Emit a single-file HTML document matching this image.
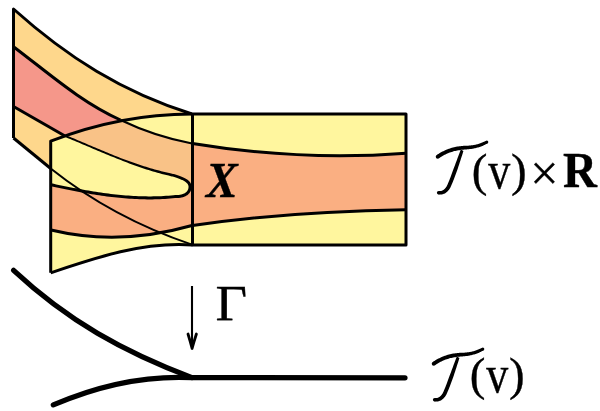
<!DOCTYPE html>
<html><head><meta charset="utf-8">
<style>
html,body{margin:0;padding:0;background:#fff;}
body{width:600px;height:411px;overflow:hidden;position:relative;}
svg{position:absolute;left:0;top:0;}
.t{font-family:"Liberation Serif",serif;stroke:#000;stroke-width:0.35px;-webkit-font-smoothing:antialiased;}
svg{will-change:transform;}
</style></head><body>
<svg width="600" height="411" viewBox="0 0 600 411">
<g stroke="none">
  <!-- back sheet -->
  <path fill="#FED78C" d="M13.5,9 C67,57 122,92 192,114 L192,244.6 C142.6,228 92.2,201.6 50.7,168.5 L13.5,138 Z"/>
  <path fill="#F5978A" d="M13.5,46.7 C48.4,73 80.5,101.9 120.5,120 C100,124 80,130 65,136 L13.5,106.5 Z"/>
  <!-- front sheet -->
  <path fill="#F9C287" d="M50.7,141.2 C96.1,123.5 142.9,114 192,114 L192,245 C143.4,241.5 96.6,257.3 50.7,272.8 Z"/>
  <path fill="#FFF69E" d="M120.5,120 C150,115.5 170,114 192,114 L192,143.5 Q155,136.5 120.5,120 Z"/>
  <path fill="#FFF69E" d="M64,135.5 C99.8,150 132.6,166.3 170,174.5 C185,178.3 190.5,182 190,187.5 C189.5,194 183,196.8 175,196.6 C133.2,201 91.7,193.5 51,184.8 L50.7,141.2 Z"/>
  <path fill="#FAAF82" d="M51,184.8 C91.7,193.5 133.2,201 175,196.6 C183,196.8 189.5,194 190,187.5 L192,187.5 L192,225.5 C146.4,238.5 97.4,241.1 51,230 Z"/>
  <path fill="#FFF69E" d="M51,230 C97.4,241.1 146.4,238.5 192,225.5 L192,245 C143.4,241.5 96.6,257.3 50.7,272.8 Z"/>
  <!-- rectangle -->
  <rect x="192.5" y="114" width="213.5" height="131" fill="#FFF69E"/>
  <path fill="#FAAF82" d="M192.5,143.5 C250,153 320,159.8 406,153.2 L406,209.7 C330,210.8 250,217 192.5,225.5 Z"/>
</g>
<g fill="none" stroke="#000" stroke-linejoin="round">
  <!-- thin continuation lines -->
  <path stroke-width="2.1" d="M120.5,120 Q155,136.5 192,143.5"/>
  <path stroke-width="2" d="M50.7,168.5 C92.2,201.6 142.6,228 192,244.6"/>
  <!-- thick -->
  <g stroke-width="3">
  <path d="M13.5,138 L13.5,9 C67,57 122,92 192,114"/>
  <path d="M13.5,46.7 C48.4,73 80.5,101.9 120.5,120"/>
  <path d="M13.5,106.5 L65,136"/>
  <path d="M13.5,138 L50.7,168.5"/>
  <path d="M50.7,272.8 L50.7,141.2 C96.1,123.5 142.9,114 192,114"/>
  <path d="M50.7,272.8 C96.6,257.3 143.4,241.5 192.5,245"/>
  <path d="M51,230 C97.4,241.1 146.4,238.5 192,225.5"/>
  <rect x="192.5" y="114" width="213.5" height="131"/>
  <path d="M192.5,143.5 C250,153 320,159.8 406,153.2"/>
  <path d="M192.5,225.5 C250,217 330,210.8 406,209.7"/>
  </g>
  </g>
<path fill="#000" stroke="none" d="M63.64,136.38 L65.81,137.26 L67.96,138.14 L70.11,139.03 L72.26,139.92 L74.40,140.82 L76.53,141.71 L78.66,142.61 L80.78,143.50 L82.90,144.40 L85.02,145.30 L87.13,146.20 L89.24,147.10 L91.35,147.99 L93.46,148.89 L95.56,149.78 L97.66,150.67 L99.76,151.55 L101.86,152.43 L103.96,153.31 L106.06,154.18 L108.16,155.05 L110.26,155.91 L112.37,156.77 L114.47,157.61 L116.57,158.45 L118.68,159.29 L120.79,160.12 L122.90,160.95 L125.01,161.78 L127.12,162.59 L129.24,163.39 L131.37,164.18 L133.50,164.97 L135.63,165.74 L137.77,166.49 L139.92,167.24 L142.07,167.97 L144.23,168.69 L146.40,169.39 L148.58,170.08 L150.76,170.76 L152.95,171.41 L155.16,172.06 L157.37,172.68 L159.59,173.29 L161.82,173.88 L164.06,174.46 L166.31,175.01 L168.58,175.55 L170.12,175.92 L170.99,176.15 L171.85,176.39 L172.68,176.62 L173.48,176.85 L174.26,177.09 L175.02,177.32 L175.76,177.55 L176.48,177.79 L177.17,178.02 L177.84,178.25 L178.48,178.49 L179.11,178.72 L179.71,178.95 L180.29,179.19 L180.85,179.42 L181.39,179.65 L181.91,179.89 L182.40,180.12 L182.87,180.36 L183.32,180.59 L183.75,180.83 L184.16,181.06 L184.55,181.30 L184.92,181.53 L185.27,181.77 L185.59,182.00 L185.90,182.23 L186.19,182.47 L186.45,182.70 L186.70,182.93 L186.93,183.16 L187.14,183.39 L187.33,183.62 L187.51,183.84 L187.67,184.07 L187.81,184.29 L187.94,184.51 L188.06,184.74 L188.16,184.96 L188.25,185.18 L188.32,185.41 L188.39,185.64 L188.44,185.87 L188.48,186.10 L188.51,186.34 L188.53,186.59 L188.53,186.84 L188.52,187.10 L188.51,187.37 L188.47,187.72 L188.43,188.04 L188.37,188.35 L188.31,188.65 L188.23,188.94 L188.14,189.22 L188.04,189.50 L187.93,189.76 L187.81,190.02 L187.68,190.27 L187.54,190.52 L187.39,190.76 L187.23,190.99 L187.06,191.21 L186.88,191.43 L186.69,191.64 L186.49,191.85 L186.28,192.05 L186.06,192.24 L185.83,192.43 L185.58,192.62 L185.33,192.79 L185.07,192.96 L184.80,193.13 L184.51,193.29 L184.22,193.44 L183.92,193.59 L183.61,193.73 L183.29,193.86 L182.96,193.99 L182.62,194.11 L182.27,194.23 L181.92,194.33 L181.55,194.43 L181.18,194.53 L180.80,194.61 L180.41,194.69 L180.02,194.77 L179.62,194.83 L179.21,194.89 L178.79,194.94 L178.37,194.99 L177.94,195.03 L177.51,195.06 L177.07,195.08 L176.63,195.10 L176.18,195.11 L175.73,195.11 L175.27,195.11 L173.58,195.24 L171.07,195.47 L168.55,195.68 L166.04,195.86 L163.52,196.02 L161.01,196.14 L158.50,196.24 L155.99,196.32 L153.47,196.37 L150.96,196.39 L148.45,196.40 L145.94,196.37 L143.43,196.33 L140.92,196.26 L138.42,196.17 L135.91,196.06 L133.40,195.93 L130.90,195.78 L128.39,195.61 L125.89,195.42 L123.39,195.21 L120.89,194.98 L118.38,194.74 L115.88,194.47 L113.39,194.19 L110.89,193.90 L108.39,193.59 L105.90,193.26 L103.40,192.92 L100.91,192.57 L98.42,192.20 L95.92,191.82 L93.43,191.42 L90.95,191.02 L88.46,190.60 L85.97,190.17 L83.49,189.74 L81.00,189.29 L78.52,188.83 L76.04,188.36 L73.56,187.89 L71.08,187.41 L68.61,186.92 L66.13,186.42 L63.66,185.92 L61.19,185.41 L58.72,184.90 L56.25,184.38 L53.78,183.86 L51.31,183.33 L51.92,186.53 L54.39,187.05 L56.86,187.58 L59.34,188.09 L61.82,188.60 L64.30,189.11 L66.78,189.61 L69.26,190.11 L71.75,190.59 L74.24,191.07 L76.73,191.55 L79.22,192.01 L81.71,192.47 L84.21,192.91 L86.71,193.35 L89.21,193.77 L91.71,194.18 L94.21,194.59 L96.72,194.98 L99.22,195.35 L101.73,195.72 L104.24,196.07 L106.75,196.40 L109.27,196.72 L111.78,197.03 L114.30,197.32 L116.82,197.59 L119.34,197.85 L121.86,198.09 L124.39,198.31 L126.91,198.51 L129.44,198.69 L131.97,198.85 L134.50,199.00 L137.03,199.12 L139.56,199.22 L142.10,199.30 L144.63,199.35 L147.17,199.39 L149.71,199.40 L152.25,199.38 L154.79,199.35 L157.33,199.28 L159.87,199.19 L162.42,199.08 L164.96,198.94 L167.51,198.77 L170.06,198.57 L172.61,198.35 L175.12,198.09 L175.47,198.11 L175.97,198.11 L176.47,198.10 L176.96,198.09 L177.45,198.07 L177.94,198.04 L178.42,198.00 L178.90,197.95 L179.37,197.90 L179.84,197.83 L180.30,197.76 L180.76,197.68 L181.21,197.59 L181.66,197.50 L182.10,197.39 L182.53,197.28 L182.96,197.15 L183.38,197.02 L183.80,196.88 L184.21,196.73 L184.61,196.57 L185.00,196.39 L185.38,196.21 L185.76,196.02 L186.13,195.82 L186.49,195.61 L186.84,195.39 L187.18,195.16 L187.52,194.92 L187.84,194.66 L188.15,194.40 L188.45,194.12 L188.74,193.84 L189.02,193.54 L189.29,193.23 L189.54,192.91 L189.78,192.58 L190.00,192.24 L190.22,191.89 L190.41,191.53 L190.60,191.15 L190.76,190.77 L190.91,190.38 L191.05,189.98 L191.17,189.57 L191.27,189.15 L191.36,188.72 L191.42,188.28 L191.48,187.84 L191.51,187.44 L191.53,187.04 L191.53,186.65 L191.51,186.26 L191.47,185.87 L191.42,185.48 L191.34,185.09 L191.25,184.71 L191.13,184.34 L190.99,183.97 L190.84,183.60 L190.66,183.24 L190.47,182.89 L190.26,182.54 L190.02,182.21 L189.77,181.88 L189.50,181.55 L189.21,181.24 L188.91,180.93 L188.59,180.63 L188.25,180.33 L187.89,180.04 L187.52,179.76 L187.13,179.48 L186.72,179.20 L186.30,178.93 L185.85,178.67 L185.39,178.40 L184.92,178.15 L184.42,177.89 L183.90,177.64 L183.37,177.39 L182.82,177.14 L182.25,176.90 L181.66,176.66 L181.05,176.42 L180.42,176.18 L179.77,175.94 L179.10,175.71 L178.41,175.48 L177.70,175.25 L176.96,175.02 L176.21,174.79 L175.44,174.56 L174.64,174.33 L173.82,174.10 L172.98,173.88 L172.12,173.65 L171.24,173.42 L170.30,173.19 L168.03,172.70 L165.79,172.20 L163.56,171.67 L161.34,171.13 L159.12,170.56 L156.92,169.98 L154.72,169.39 L152.53,168.78 L150.35,168.15 L148.18,167.50 L146.01,166.84 L143.85,166.17 L141.70,165.48 L139.55,164.78 L137.41,164.06 L135.27,163.34 L133.14,162.60 L131.01,161.85 L128.89,161.08 L126.77,160.31 L124.65,159.53 L122.54,158.73 L120.43,157.93 L118.33,157.11 L116.23,156.27 L114.13,155.43 L112.03,154.58 L109.93,153.72 L107.84,152.86 L105.74,151.99 L103.65,151.12 L101.55,150.24 L99.45,149.36 L97.35,148.47 L95.25,147.58 L93.15,146.69 L91.04,145.80 L88.93,144.90 L86.82,144.00 L84.71,143.10 L82.59,142.20 L80.46,141.31 L78.33,140.41 L76.20,139.51 L74.06,138.62 L71.92,137.72 L69.76,136.83 L67.61,135.94 L65.44,135.06 Z"/>
<g fill="none" stroke="#000" stroke-linejoin="round">
  <!-- tree -->
  <g stroke-width="5.2" stroke-linecap="round">
  <path d="M13.6,270.3 C68,321 123.3,351.5 192,377.6"/>
  <path d="M53.3,404.9 C96.5,386.3 144.6,375.3 192,377.6 L405,377.8"/>
  </g>
  <!-- arrow -->
  <path stroke-width="2.1" d="M192,286 L192,346"/>
  <path stroke-width="2.8" stroke-linecap="round" d="M188,334 Q190.5,342 192.1,348.5 M196.4,334 Q193.8,342 192.1,348.5"/>
</g>
<!-- script T top -->
<g fill="#000"><path d="M438.80,158.31 L439.62,157.75 L440.44,157.22 L441.27,156.70 L442.10,156.21 L442.93,155.73 L443.77,155.27 L444.62,154.82 L445.47,154.40 L446.34,153.99 L447.20,153.60 L448.08,153.23 L448.96,152.87 L449.85,152.54 L450.75,152.22 L451.66,151.92 L452.58,151.63 L453.50,151.37 L454.44,151.12 L455.39,150.88 L456.35,150.67 L457.32,150.47 L458.30,150.29 L459.29,150.13 L460.30,149.98 L461.32,149.85 L462.35,149.74 L463.39,149.63 L464.45,149.54 L465.52,149.46 L466.51,149.40 L467.34,149.34 L468.16,149.27 L468.97,149.19 L469.78,149.09 L470.58,148.99 L471.37,148.88 L472.16,148.76 L472.94,148.63 L473.71,148.49 L474.47,148.33 L475.23,148.17 L475.98,148.00 L476.73,147.81 L477.46,147.62 L478.19,147.41 L478.91,147.19 L479.63,146.97 L480.33,146.73 L481.03,146.47 L481.72,146.21 L482.41,145.93 L483.08,145.65 L483.75,145.35 L484.41,145.03 L485.06,144.71 L485.70,144.37 L486.33,144.02 L486.96,143.66 L487.57,143.29 L485.74,140.88 L485.16,141.20 L484.58,141.50 L483.99,141.80 L483.39,142.08 L482.79,142.36 L482.17,142.62 L481.55,142.87 L480.92,143.11 L480.28,143.33 L479.63,143.55 L478.98,143.76 L478.32,143.95 L477.65,144.14 L476.97,144.31 L476.29,144.48 L475.60,144.63 L474.90,144.78 L474.19,144.91 L473.47,145.04 L472.75,145.15 L472.02,145.26 L471.28,145.36 L470.54,145.44 L469.78,145.52 L469.02,145.59 L468.26,145.65 L467.48,145.70 L466.70,145.74 L465.92,145.77 L464.79,145.80 L463.66,145.85 L462.54,145.92 L461.43,146.02 L460.34,146.14 L459.26,146.28 L458.19,146.44 L457.13,146.62 L456.08,146.82 L455.04,147.04 L454.01,147.28 L452.99,147.53 L451.98,147.81 L450.99,148.10 L450.00,148.41 L449.02,148.75 L448.05,149.10 L447.09,149.47 L446.14,149.86 L445.19,150.27 L444.26,150.69 L443.33,151.14 L442.41,151.61 L441.49,152.09 L440.59,152.59 L439.69,153.12 L438.80,153.66 L437.91,154.22 L437.03,154.80 Z"/><path d="M460.78,149.50 L460.33,150.73 L459.86,151.97 L459.40,153.22 L458.93,154.50 L458.45,155.78 L457.97,157.07 L457.49,158.37 L457.00,159.68 L456.52,160.98 L456.03,162.30 L455.54,163.60 L455.05,164.91 L454.55,166.21 L454.06,167.51 L453.57,168.79 L453.12,170.08 L452.66,171.35 L452.20,172.60 L451.75,173.84 L451.30,175.06 L450.86,176.26 L450.41,177.43 L449.97,178.58 L449.54,179.69 L449.11,180.78 L448.69,181.83 L448.27,182.85 L447.86,183.83 L447.45,184.77 L447.18,185.37 L446.94,185.81 L446.70,186.23 L446.45,186.64 L446.19,187.03 L445.93,187.39 L445.66,187.74 L445.38,188.08 L445.11,188.39 L444.83,188.68 L444.54,188.96 L444.26,189.22 L443.97,189.47 L443.69,189.70 L443.40,189.91 L443.11,190.11 L442.82,190.28 L442.52,190.44 L442.23,190.58 L441.93,190.71 L441.64,190.82 L441.34,190.91 L441.05,190.98 L440.75,191.04 L440.45,191.08 L440.15,191.10 L439.85,191.11 L439.55,191.10 L439.25,191.08 L438.92,191.03 L438.50,194.42 L438.99,194.50 L439.48,194.56 L439.98,194.58 L440.47,194.58 L440.96,194.56 L441.45,194.50 L441.94,194.42 L442.42,194.31 L442.90,194.18 L443.38,194.02 L443.85,193.84 L444.31,193.64 L444.76,193.41 L445.21,193.15 L445.65,192.88 L446.08,192.58 L446.51,192.27 L446.92,191.93 L447.32,191.56 L447.71,191.17 L448.09,190.77 L448.45,190.34 L448.81,189.90 L449.16,189.43 L449.49,188.95 L449.81,188.45 L450.12,187.94 L450.42,187.41 L450.73,186.81 L451.17,185.82 L451.59,184.84 L452.02,183.81 L452.46,182.75 L452.90,181.66 L453.34,180.54 L453.79,179.39 L454.24,178.22 L454.70,177.02 L455.16,175.80 L455.62,174.57 L456.08,173.31 L456.55,172.04 L457.01,170.75 L457.46,169.45 L457.90,168.13 L458.33,166.81 L458.77,165.48 L459.20,164.15 L459.64,162.81 L460.07,161.48 L460.50,160.15 L460.92,158.83 L461.35,157.51 L461.77,156.20 L462.19,154.91 L462.60,153.63 L463.01,152.36 L463.42,151.11 Z"/><circle cx="437.70" cy="156.70" r="1.95"/><circle cx="486.80" cy="142.00" r="1.50"/><circle cx="438.60" cy="192.70" r="1.70"/></g>
<g fill="#000" transform="translate(-4,207)"><path d="M438.80,158.31 L439.62,157.75 L440.44,157.22 L441.27,156.70 L442.10,156.21 L442.93,155.73 L443.77,155.27 L444.62,154.82 L445.47,154.40 L446.34,153.99 L447.20,153.60 L448.08,153.23 L448.96,152.87 L449.85,152.54 L450.75,152.22 L451.66,151.92 L452.58,151.63 L453.50,151.37 L454.44,151.12 L455.39,150.88 L456.35,150.67 L457.32,150.47 L458.30,150.29 L459.29,150.13 L460.30,149.98 L461.32,149.85 L462.35,149.74 L463.39,149.63 L464.45,149.54 L465.52,149.46 L466.51,149.40 L467.34,149.34 L468.16,149.27 L468.97,149.19 L469.78,149.09 L470.58,148.99 L471.37,148.88 L472.16,148.76 L472.94,148.63 L473.71,148.49 L474.47,148.33 L475.23,148.17 L475.98,148.00 L476.73,147.81 L477.46,147.62 L478.19,147.41 L478.91,147.19 L479.63,146.97 L480.33,146.73 L481.03,146.47 L481.72,146.21 L482.41,145.93 L483.08,145.65 L483.75,145.35 L484.41,145.03 L485.06,144.71 L485.70,144.37 L486.33,144.02 L486.96,143.66 L487.57,143.29 L485.74,140.88 L485.16,141.20 L484.58,141.50 L483.99,141.80 L483.39,142.08 L482.79,142.36 L482.17,142.62 L481.55,142.87 L480.92,143.11 L480.28,143.33 L479.63,143.55 L478.98,143.76 L478.32,143.95 L477.65,144.14 L476.97,144.31 L476.29,144.48 L475.60,144.63 L474.90,144.78 L474.19,144.91 L473.47,145.04 L472.75,145.15 L472.02,145.26 L471.28,145.36 L470.54,145.44 L469.78,145.52 L469.02,145.59 L468.26,145.65 L467.48,145.70 L466.70,145.74 L465.92,145.77 L464.79,145.80 L463.66,145.85 L462.54,145.92 L461.43,146.02 L460.34,146.14 L459.26,146.28 L458.19,146.44 L457.13,146.62 L456.08,146.82 L455.04,147.04 L454.01,147.28 L452.99,147.53 L451.98,147.81 L450.99,148.10 L450.00,148.41 L449.02,148.75 L448.05,149.10 L447.09,149.47 L446.14,149.86 L445.19,150.27 L444.26,150.69 L443.33,151.14 L442.41,151.61 L441.49,152.09 L440.59,152.59 L439.69,153.12 L438.80,153.66 L437.91,154.22 L437.03,154.80 Z"/><path d="M460.78,149.50 L460.33,150.73 L459.86,151.97 L459.40,153.22 L458.93,154.50 L458.45,155.78 L457.97,157.07 L457.49,158.37 L457.00,159.68 L456.52,160.98 L456.03,162.30 L455.54,163.60 L455.05,164.91 L454.55,166.21 L454.06,167.51 L453.57,168.79 L453.12,170.08 L452.66,171.35 L452.20,172.60 L451.75,173.84 L451.30,175.06 L450.86,176.26 L450.41,177.43 L449.97,178.58 L449.54,179.69 L449.11,180.78 L448.69,181.83 L448.27,182.85 L447.86,183.83 L447.45,184.77 L447.18,185.37 L446.94,185.81 L446.70,186.23 L446.45,186.64 L446.19,187.03 L445.93,187.39 L445.66,187.74 L445.38,188.08 L445.11,188.39 L444.83,188.68 L444.54,188.96 L444.26,189.22 L443.97,189.47 L443.69,189.70 L443.40,189.91 L443.11,190.11 L442.82,190.28 L442.52,190.44 L442.23,190.58 L441.93,190.71 L441.64,190.82 L441.34,190.91 L441.05,190.98 L440.75,191.04 L440.45,191.08 L440.15,191.10 L439.85,191.11 L439.55,191.10 L439.25,191.08 L438.92,191.03 L438.50,194.42 L438.99,194.50 L439.48,194.56 L439.98,194.58 L440.47,194.58 L440.96,194.56 L441.45,194.50 L441.94,194.42 L442.42,194.31 L442.90,194.18 L443.38,194.02 L443.85,193.84 L444.31,193.64 L444.76,193.41 L445.21,193.15 L445.65,192.88 L446.08,192.58 L446.51,192.27 L446.92,191.93 L447.32,191.56 L447.71,191.17 L448.09,190.77 L448.45,190.34 L448.81,189.90 L449.16,189.43 L449.49,188.95 L449.81,188.45 L450.12,187.94 L450.42,187.41 L450.73,186.81 L451.17,185.82 L451.59,184.84 L452.02,183.81 L452.46,182.75 L452.90,181.66 L453.34,180.54 L453.79,179.39 L454.24,178.22 L454.70,177.02 L455.16,175.80 L455.62,174.57 L456.08,173.31 L456.55,172.04 L457.01,170.75 L457.46,169.45 L457.90,168.13 L458.33,166.81 L458.77,165.48 L459.20,164.15 L459.64,162.81 L460.07,161.48 L460.50,160.15 L460.92,158.83 L461.35,157.51 L461.77,156.20 L462.19,154.91 L462.60,153.63 L463.01,152.36 L463.42,151.11 Z"/><circle cx="437.70" cy="156.70" r="1.95"/><circle cx="486.80" cy="142.00" r="1.50"/><circle cx="438.60" cy="192.70" r="1.70"/></g>
<text class="t" font-size="50" font-weight="bold" font-style="italic" transform="translate(206,197) scale(0.95,1)">X</text>
<text class="t" x="471.8" y="186.1" font-size="47">(</text>
<text class="t" font-size="50" transform="translate(488.3,187.8) scale(0.88,1.05)">v</text>
<text class="t" x="510.9" y="186.1" font-size="47">)</text>
<text class="t" x="530.3" y="190.3" font-size="50">×</text>
<text class="t" font-size="50" font-weight="bold" transform="translate(563,187) scale(0.94,1)">R</text>
<text class="t" x="469.8" y="390.1" font-size="47">(</text>
<text class="t" font-size="50" transform="translate(486.3,391.8) scale(0.88,1.05)">v</text>
<text class="t" x="508.9" y="390.1" font-size="47">)</text>
<text class="t" font-size="50.5" transform="translate(215.5,320.1) scale(1.08,1)">Γ</text>
</svg>
</body></html>
